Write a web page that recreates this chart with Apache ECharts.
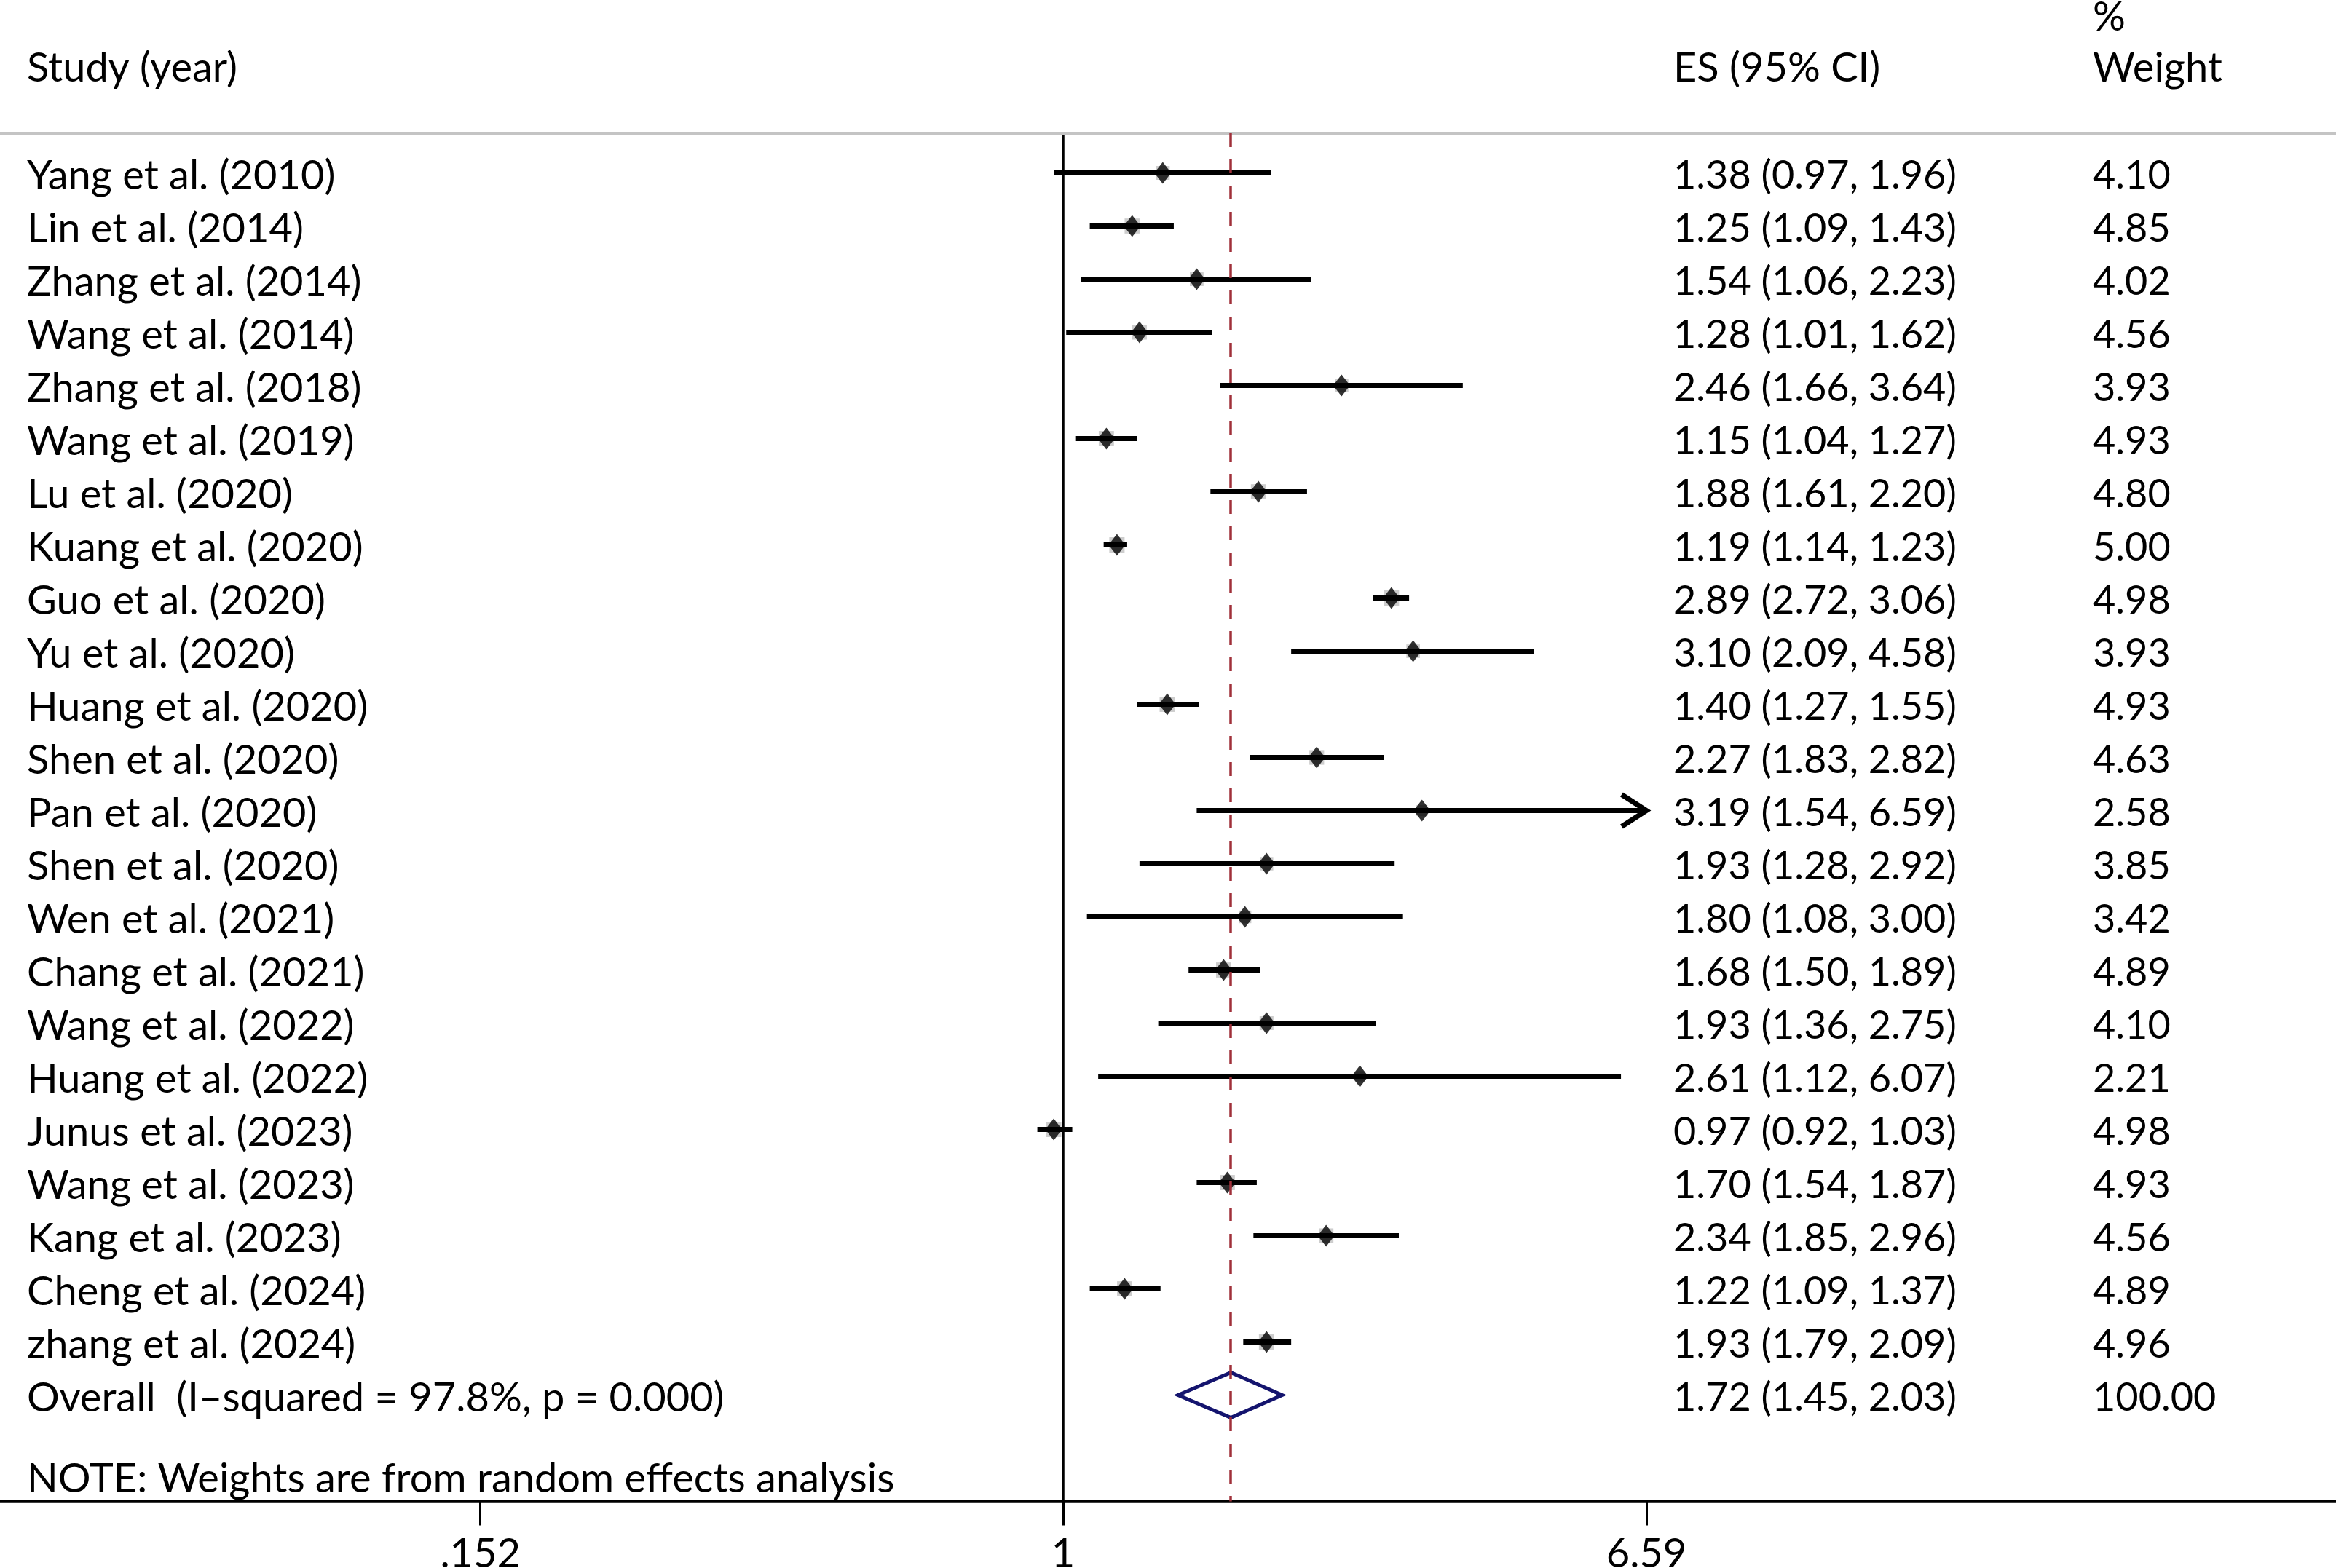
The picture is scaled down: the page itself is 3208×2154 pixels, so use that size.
<!DOCTYPE html>
<html>
<head>
<meta charset="utf-8">
<script src="https://cdn.jsdelivr.net/npm/echarts@6/dist/echarts.min.js"></script>
<style>
html,body{margin:0;padding:0;background:#fff;}
#chart{width:3208px;height:2154px;}
</style>
</head>
<body>
<div id="chart"></div>
<script>
// ---------- data ----------
const studies = ['Yang et al. (2010)', 'Lin et al. (2014)', 'Zhang et al. (2014)', 'Wang et al. (2014)',
  'Zhang et al. (2018)', 'Wang et al. (2019)', 'Lu et al. (2020)', 'Kuang et al. (2020)', 'Guo et al. (2020)',
  'Yu et al. (2020)', 'Huang et al. (2020)', 'Shen et al. (2020)', 'Pan et al. (2020)', 'Shen et al. (2020)',
  'Wen et al. (2021)', 'Chang et al. (2021)', 'Wang et al. (2022)', 'Huang et al. (2022)', 'Junus et al. (2023)',
  'Wang et al. (2023)', 'Kang et al. (2023)', 'Cheng et al. (2024)', 'zhang et al. (2024)'];
const es = [1.38, 1.25, 1.54, 1.28, 2.46, 1.15, 1.88, 1.19, 2.89, 3.10, 1.40, 2.27, 3.19, 1.93, 1.80, 1.68, 1.93, 2.61, 0.97, 1.70, 2.34, 1.22, 1.93];
const lo = [0.97, 1.09, 1.06, 1.01, 1.66, 1.04, 1.61, 1.14, 2.72, 2.09, 1.27, 1.83, 1.54, 1.28, 1.08, 1.50, 1.36, 1.12, 0.92, 1.54, 1.85, 1.09, 1.79];
const hi = [1.96, 1.43, 2.23, 1.62, 3.64, 1.27, 2.20, 1.23, 3.06, 4.58, 1.55, 2.82, 6.59, 2.92, 3.00, 1.89, 2.75, 6.07, 1.03, 1.87, 2.96, 1.37, 2.09];
const weight = [4.10, 4.85, 4.02, 4.56, 3.93, 4.93, 4.80, 5.00, 4.98, 3.93, 4.93, 4.63, 2.58, 3.85, 3.42, 4.89, 4.10, 2.21, 4.98, 4.93, 4.56, 4.89, 4.96];
const overallLabel = 'Overall  (I\u2013squared = 97.8%, p = 0.000)';
const overallEs = 1.72, overallLo = 1.45, overallHi = 2.03, overallWeight = 100.00;
const noteText = 'NOTE: Weights are from random effects analysis';
const tickValues = [0.152, 1, 6.59];
const tickLabels = ['.152', '1', '6.59'];
const plotMax = 6.59;

// ---------- layout ----------
const FONT = 'Lato';
const FS = 56;
const FSNUM = 54;
const W = 3208, H = 2154;
const axisY = 2062.5, sepY = 183;
const row0Y = 237.5, rowStep = 73.0;
const xZero = 1460, pxPerLn = 424.8;
const colStudy = 37, colEs = 2298, colW = 2874;
const textDy = 4;

const yMin = (sepY - row0Y) / rowStep;
const yMax = (axisY - row0Y) / rowStep;
const xMin = -xZero / pxPerLn;
const xMax = (W - xZero) / pxPerLn;

const ln = Math.log;
const nStudy = studies.length;
const overallRow = nStudy;

const ciData = studies.map((s, i) => [ln(lo[i]), ln(Math.min(hi[i], plotMax)), i, hi[i] >= plotMax ? 1 : 0]);
const pointData = studies.map((s, i) => [ln(es[i]), i, weight[i]]);
const textRows = studies.map((s, i) => [0, i]);
textRows.push([0, overallRow]);
const rowName = studies.concat([overallLabel]);
const allLo = lo.concat([overallLo]), allHi = hi.concat([overallHi]);
const rowEs = es.concat([overallEs]).map((v, i) =>
  v.toFixed(2) + ' (' + allLo[i].toFixed(2) + ', ' + allHi[i].toFixed(2) + ')');
const rowW = weight.concat([overallWeight]).map(v => v.toFixed(2));

const chart = echarts.init(document.getElementById('chart'), null, {renderer: 'canvas'});

const txt = (text, x, y, fs) => ({
  type: 'text',
  style: {text: text, x: x, y: y + textDy, fill: '#000', font: fs + 'px ' + FONT, align: 'left', verticalAlign: 'middle'}
});
const head = (text, x, y) => ({
  type: 'text', left: x, top: y - FS / 2 + textDy - 2,
  style: {text: text, fill: '#000', font: FS + 'px ' + FONT}
});

const option = {
  animation: false,
  backgroundColor: '#fff',
  grid: {left: 0, right: 0, top: sepY, bottom: H - axisY, containLabel: false, outerBoundsMode: 'none'},
  xAxis: [{
    type: 'value', min: xMin, max: xMax, position: 'bottom',
    axisLine: {show: true, onZero: false, lineStyle: {color: '#000', width: 4.5}},
    axisTick: {show: true, length: 33, lineStyle: {color: '#000', width: 3}, customValues: tickValues.map(ln)},
    axisLabel: {
      show: true, customValues: tickValues.map(ln), margin: 44,
      fontFamily: FONT, fontSize: FS, color: '#000',
      formatter: (v) => {
        let best = 0;
        tickValues.forEach((t, i) => { if (Math.abs(ln(t) - v) < Math.abs(ln(tickValues[best]) - v)) best = i; });
        return tickLabels[best];
      }
    },
    splitLine: {show: false}
  }, {
    type: 'value', min: xMin, max: xMax, position: 'top',
    axisLine: {show: true, onZero: false, lineStyle: {color: '#c4c4c4', width: 4.5}},
    axisTick: {show: false}, axisLabel: {show: false}, splitLine: {show: false}
  }],
  yAxis: {
    type: 'value', inverse: true, min: yMin, max: yMax,
    axisLine: {show: true, onZero: true, lineStyle: {color: '#000', width: 3.5}},
    axisTick: {show: false}, axisLabel: {show: false}, splitLine: {show: false}
  },
  graphic: [
    head('Study (year)', colStudy, 92),
    head('ES (95% CI)', colEs, 92),
    head('%', colW, 22),
    head('Weight', colW, 92),
    head(noteText, colStudy, 2030)
  ],
  series: [
    { // weight boxes
      type: 'scatter', z: 2, silent: true,
      data: pointData,
      symbol: 'rect',
      symbolSize: (v) => Math.sqrt(v[2]) * 9.4,
      itemStyle: {color: '#c0c0c0'}
    },
    { // CI lines
      type: 'custom', z: 3, silent: true,
      encode: {x: [0, 1], y: 2},
      data: ciData,
      renderItem: (params, api) => {
        const r = api.value(2);
        const a = api.coord([api.value(0), r]);
        const b = api.coord([api.value(1), r]);
        const children = [{
          type: 'line',
          shape: {x1: a[0], y1: a[1], x2: b[0], y2: b[1]},
          style: {stroke: '#000', lineWidth: 7, lineCap: 'butt'}
        }];
        if (api.value(3) === 1) {
          children.push({
            type: 'polyline',
            shape: {points: [[b[0] - 34, b[1] - 22], [b[0], b[1]], [b[0] - 34, b[1] + 22]]},
            style: {stroke: '#000', lineWidth: 7, fill: null, lineJoin: 'miter'}
          });
        }
        return {type: 'group', children: children};
      }
    },
    { // point estimates
      type: 'scatter', z: 4, silent: true,
      data: pointData,
      symbol: 'diamond',
      symbolSize: [23, 30],
      itemStyle: {color: '#000'}
    },
    { // overall diamond
      type: 'custom', z: 4, silent: true,
      encode: {x: [0, 1, 2], y: 3},
      data: [[ln(overallLo), ln(overallEs), ln(overallHi), overallRow]],
      renderItem: (params, api) => {
        const r = api.value(3);
        const L = api.coord([api.value(0), r]);
        const C = api.coord([api.value(1), r]);
        const R = api.coord([api.value(2), r]);
        const h = 31;
        return {
          type: 'polygon',
          shape: {points: [[L[0], L[1]], [C[0], C[1] - h], [R[0], R[1]], [C[0], C[1] + h]]},
          style: {stroke: '#14146e', lineWidth: 5, fill: null, lineJoin: 'miter'}
        };
      }
    },
    { // row texts
      type: 'custom', z: 5, silent: true,
      encode: {y: 1},
      data: textRows,
      renderItem: (params, api) => {
        const i = params.dataIndex;
        const y = api.coord([0, api.value(1)])[1];
        return {
          type: 'group',
          children: [txt(rowName[i], colStudy, y, FS), txt(rowEs[i], colEs, y, FSNUM), txt(rowW[i], colW, y, FSNUM)]
        };
      }
    },
    { // overall effect reference line
      type: 'scatter', z: 6, silent: true, data: [],
      markLine: {
        silent: true, symbol: 'none', animation: false,
        label: {show: false},
        lineStyle: {color: '#a0303a', type: [19, 17], width: 3.5},
        data: [{xAxis: ln(overallEs)}]
      }
    }
  ]
};
chart.setOption(option);
</script>
</body>
</html>
